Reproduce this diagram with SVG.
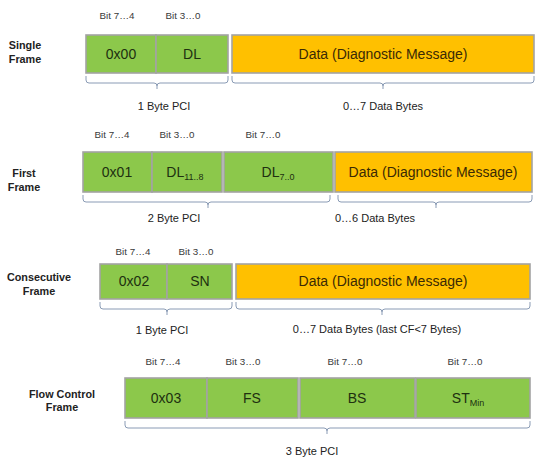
<svg xmlns="http://www.w3.org/2000/svg" width="543" height="459" viewBox="0 0 543 459">
<style>
.g{fill:#8cc84b;stroke:#a3a3a3;stroke-width:1.6}
.o{fill:#ffc000;stroke:#a3a3a3;stroke-width:1.6}
.t{font-family:"Liberation Sans",Arial,sans-serif;font-size:14px;fill:#203010;text-anchor:middle}
.d{font-family:"Liberation Sans",Arial,sans-serif;font-size:14px;fill:#3a2a05;text-anchor:middle}
.b{font-family:"Liberation Sans",Arial,sans-serif;font-size:9.8px;fill:#3a3a3a;text-anchor:middle}
.p{font-family:"Liberation Sans",Arial,sans-serif;font-size:11px;fill:#222;text-anchor:middle}
.l{font-family:"Liberation Sans",Arial,sans-serif;font-size:10.8px;font-weight:bold;fill:#222;text-anchor:middle}
.s{font-size:9px}
.br{fill:none;stroke:#8a9bb5;stroke-width:1}
</style>
<rect width="543" height="459" fill="#fff"/>

<g id="single-frame">
<text class="l" x="25" y="49">Single</text>
<text class="l" x="25" y="63">Frame</text>
<text class="b" x="117" y="19">Bit 7…4</text>
<text class="b" x="183" y="19">Bit 3…0</text>
<rect class="g" x="86" y="35" width="70" height="38"/>
<rect class="g" x="156" y="35" width="72" height="38"/>
<rect class="o" x="232" y="35" width="302" height="38"/>
<text class="t" x="121" y="59">0x00</text>
<text class="t" x="192" y="59">DL</text>
<text class="d" x="383" y="59">Data (Diagnostic Message)</text>
<text class="p" x="164" y="110">1 Byte PCI</text>
<text class="p" x="383" y="110">0…7 Data Bytes</text>
</g>

<g id="first-frame">
<text class="l" x="24" y="177">First</text>
<text class="l" x="24" y="191">Frame</text>
<text class="b" x="112" y="138">Bit 7…4</text>
<text class="b" x="177" y="138">Bit 3…0</text>
<text class="b" x="263" y="138">Bit 7…0</text>
<rect class="g" x="83" y="152" width="69" height="40"/>
<rect class="g" x="152" y="152" width="70" height="40"/>
<rect class="g" x="224" y="152" width="109" height="40"/>
<rect class="o" x="335" y="152" width="197" height="40"/>
<text class="t" x="117" y="177">0x01</text>
<text class="t" x="185" y="177">DL<tspan class="s" dy="3">11..8</tspan></text>
<text class="t" x="278" y="177">DL<tspan class="s" dy="3">7..0</tspan></text>
<text class="d" x="433" y="177">Data (Diagnostic Message)</text>
<text class="p" x="174" y="222">2 Byte PCI</text>
<text class="p" x="375" y="222">0…6 Data Bytes</text>
</g>

<g id="consecutive-frame">
<text class="l" x="39" y="281">Consecutive</text>
<text class="l" x="39" y="295">Frame</text>
<text class="b" x="133" y="255">Bit 7…4</text>
<text class="b" x="196" y="255">Bit 3…0</text>
<rect class="g" x="100" y="264" width="67" height="35"/>
<rect class="g" x="167" y="264" width="65" height="35"/>
<rect class="o" x="236" y="264" width="294" height="35"/>
<text class="t" x="134" y="286">0x02</text>
<text class="t" x="200" y="286">SN</text>
<text class="d" x="383" y="286">Data (Diagnostic Message)</text>
<text class="p" x="162" y="334">1 Byte PCI</text>
<text class="p" x="377" y="333">0…7 Data Bytes (last CF&lt;7 Bytes)</text>
</g>

<g id="flow-control-frame">
<text class="l" x="62" y="398">Flow Control</text>
<text class="l" x="62" y="411">Frame</text>
<text class="b" x="163" y="365">Bit 7…4</text>
<text class="b" x="243" y="365">Bit 3…0</text>
<text class="b" x="345" y="365">Bit 7…0</text>
<text class="b" x="465" y="365">Bit 7…0</text>
<rect class="g" x="125" y="378" width="82" height="40"/>
<rect class="g" x="207" y="378" width="91" height="40"/>
<rect class="g" x="300" y="378" width="115" height="40"/>
<rect class="g" x="416" y="378" width="114" height="40"/>
<text class="t" x="166" y="403">0x03</text>
<text class="t" x="252" y="403">FS</text>
<text class="t" x="357" y="403">BS</text>
<text class="t" x="468" y="403">ST<tspan class="s" dy="3">Min</tspan></text>
<text class="p" x="312" y="455">3 Byte PCI</text>
</g>

<g id="connectors">
<path class="br" d="M86 76 v4 q0 3 3 3 H154 q3 0 3 3 v3 M157 86 q0-3 3-3 H225 q3 0 3-3 v-4"/>
<path class="br" d="M232 76 v4 q0 3 3 3 H380 q3 0 3 3 v3 M383 86 q0-3 3-3 H531 q3 0 3-3 v-4"/>
<path class="br" d="M83 195 v4 q0 3 3 3 H205 q3 0 3 3 v3 M208 205 q0-3 3-3 H327 q3 0 3-3 v-4"/>
<path class="br" d="M338 195 v4 q0 3 3 3 H433 q3 0 3 3 v3 M436 205 q0-3 3-3 H529 q3 0 3-3 v-4"/>
<path class="br" d="M100 302 v4 q0 3 3 3 H164 q3 0 3 3 v3 M167 312 q0-3 3-3 H229 q3 0 3-3 v-4"/>
<path class="br" d="M236 302 v4 q0 3 3 3 H379 q3 0 3 3 v3 M382 312 q0-3 3-3 H527 q3 0 3-3 v-4"/>
<path class="br" d="M125 421 v4 q0 3 3 3 H324 q3 0 3 3 v3 M327 431 q0-3 3-3 H527 q3 0 3-3 v-4"/>
</g>
</svg>
